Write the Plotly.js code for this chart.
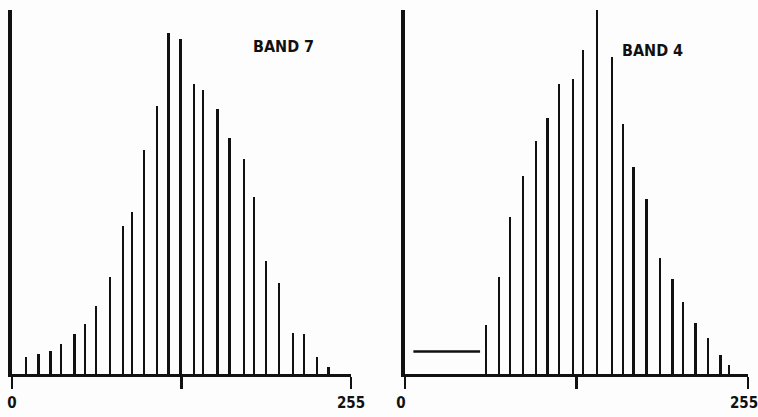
<!DOCTYPE html>
<html>
<head>
<meta charset="utf-8">
<script src="https://cdn.plot.ly/plotly-3.0.1.min.js"></script>
<style>html,body{margin:0;padding:0;background:#fdfdfd;}#chart{width:758px;height:417px;}</style>
</head>
<body>
<div id="chart"></div>
<script>
// Band 7 histogram (grey level, relative frequency)
const band7X = [10.3, 20.0, 28.9, 36.9, 46.9, 54.9, 63.2, 73.7, 83.3, 90.1, 99.3, 109.1, 117.6, 126.6, 136.7, 143.7, 154.5, 163.5, 174.3, 182.1, 191.1, 200.7, 211.2, 219.7, 229.3, 238.0];
const band7Y = [4.7, 5.5, 6.4, 8.2, 11.0, 13.7, 18.8, 26.6, 40.7, 44.6, 61.5, 73.7, 93.7, 91.9, 79.6, 77.9, 72.9, 64.7, 59.2, 48.5, 31.1, 24.9, 11.2, 11.0, 4.7, 1.8];
// Band 4 histogram
const band4X = [60.3, 69.7, 78.1, 87.8, 97.2, 105.9, 114.4, 124.8, 132.4, 142.9, 153.8, 162.0, 169.9, 179.5, 189.7, 198.9, 206.8, 216.0, 225.4, 234.6, 241.1];
const band4Y = [13.4, 26.6, 43.0, 54.5, 64.0, 70.3, 79.6, 81.0, 89.0, 100.8, 87.1, 68.7, 56.9, 48.1, 32.0, 26.0, 19.7, 14.0, 9.8, 5.3, 2.5];
// Band 4 flat level over the low grey values
const band4FlatX = [6.2, 55.8];
const band4FlatY = [6.2, 6.2];
// Axis ticks and labels
const tickVals = [0, 127.5, 255];
const tickText = ['0', '', '255'];
const bandLabels = ['BAND 7', 'BAND 4'];

const ink = '#111111';
const fontFam = 'DejaVu Sans Condensed, Liberation Sans Narrow, DejaVu Sans, sans-serif';

const traces = [
  {type: 'bar', x: band7X, y: band7Y, width: 1.8, cliponaxis: false, marker: {color: ink, line: {width: 0}}, xaxis: 'x', yaxis: 'y', hoverinfo: 'skip'},
  {type: 'bar', x: band4X, y: band4Y, width: 1.7, cliponaxis: false, marker: {color: ink, line: {width: 0}}, xaxis: 'x2', yaxis: 'y2', hoverinfo: 'skip'},
  {type: 'scatter', mode: 'lines', x: band4FlatX, y: band4FlatY, line: {color: ink, width: 2.5}, xaxis: 'x2', yaxis: 'y2', hoverinfo: 'skip'}
];

const xaxisBase = {
  range: [0, 255], tickvals: tickVals, ticktext: tickText, ticks: 'outside', ticklen: 12, tickwidth: 2.2, tickcolor: ink,
  showgrid: false, zeroline: false, showline: true, linewidth: 3, linecolor: ink,
  ticklabelstandoff: 1, ticklabeloverflow: 'allow',
  tickfont: {family: fontFam, size: 15, color: ink, weight: 'bold'}, fixedrange: true
};
const yaxisBase = {range: [0, 100], showgrid: false, zeroline: false, showline: true, linewidth: 4, linecolor: ink,
  showticklabels: false, ticks: '', fixedrange: true};

const layout = {
  width: 758, height: 417,
  margin: {l: 12, r: 10, t: 10, b: 43},
  paper_bgcolor: '#fdfdfd', plot_bgcolor: '#fdfdfd',
  showlegend: false, bargap: 0,
  xaxis: Object.assign({}, xaxisBase, {domain: [0, 0.4606], anchor: 'y'}),
  yaxis: Object.assign({}, yaxisBase, {domain: [0, 1], anchor: 'x'}),
  xaxis2: Object.assign({}, xaxisBase, {domain: [0.534, 1], anchor: 'y2', ticklabelshift: -4}),
  yaxis2: Object.assign({}, yaxisBase, {domain: [0, 1], anchor: 'x2'}),
  annotations: [
    {text: bandLabels[0], xref: 'x', yref: 'y', x: 204, y: 90, showarrow: false,
     font: {family: fontFam, size: 16, color: ink, weight: 'bold'}},
    {text: bandLabels[1], xref: 'x2', yref: 'y2', x: 184, y: 89, showarrow: false,
     font: {family: fontFam, size: 16, color: ink, weight: 'bold'}}
  ]
};

Plotly.newPlot('chart', traces, layout, {staticPlot: true, displayModeBar: false});
</script>
</body>
</html>
